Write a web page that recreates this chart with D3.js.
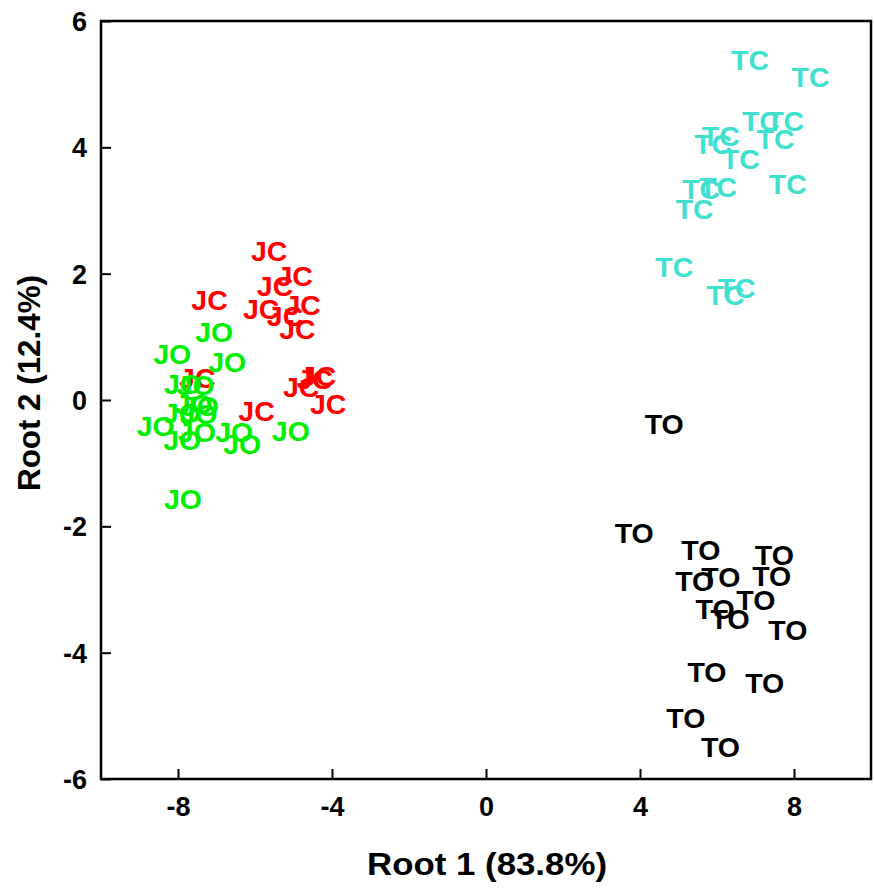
<!DOCTYPE html>
<html><head><meta charset="utf-8">
<script src="https://cdn.jsdelivr.net/npm/d3@7"></script>
<style>body{margin:0;background:#fff}svg{display:block}text{font-family:"Liberation Sans",Arial,sans-serif;font-weight:bold}</style>
</head><body>
<svg id="chart" width="874" height="895"></svg>
<script>
const xTicks = [-8, -4, 0, 4, 8];
const yTicks = [-6, -4, -2, 0, 2, 4, 6];
const groups = ["TC", "TO", "JC", "JO"];
const colors = ["#40e0d0", "#000000", "#ff0000", "#00ee00"];

const tcX = [6.86, 8.43, 7.14, 7.77, 7.52, 6.10, 5.90, 6.62, 7.84, 5.59, 6.03, 5.42, 4.89, 6.51, 6.22];
const tcY = [5.39, 5.11, 4.42, 4.42, 4.13, 4.18, 4.05, 3.81, 3.42, 3.34, 3.37, 3.02, 2.11, 1.77, 1.66];
const toX = [4.63, 3.85, 5.58, 7.49, 5.42, 6.10, 7.42, 7.01, 5.95, 6.34, 7.84, 5.74, 7.24, 5.19, 6.09];
const toY = [-0.38, -2.11, -2.37, -2.45, -2.86, -2.80, -2.78, -3.16, -3.31, -3.47, -3.64, -4.31, -4.48, -5.03, -5.50];
const jcX = [-5.63, -4.97, -5.48, -7.18, -4.76, -5.84, -5.22, -4.90, -7.50, -4.36, -4.45, -4.80, -4.10, -5.96];
const jcY = [2.36, 1.96, 1.81, 1.59, 1.51, 1.44, 1.33, 1.13, 0.35, 0.38, 0.34, 0.20, -0.07, -0.18];
const joX = [-7.06, -8.15, -6.72, -7.87, -7.54, -7.59, -7.43, -7.47, -8.58, -7.89, -7.51, -6.54, -6.33, -5.07, -7.87, -7.90];
const joY = [1.08, 0.73, 0.60, 0.26, 0.24, -0.06, -0.09, -0.22, -0.41, -0.63, -0.50, -0.51, -0.69, -0.49, -1.57, -0.20];

const seriesX = [tcX, toX, jcX, joX];
const seriesY = [tcY, toY, jcY, joY];

const svg = d3.select("#chart");
const L = 101, R = 871, T = 21, B = 779;
const x = d3.scaleLinear().domain([-10, 10]).range([L, R]);
const y = d3.scaleLinear().domain([-6, 6]).range([B, T]);

// points (labels)
groups.forEach((g, gi) => {
  const data = seriesX[gi].map((v, i) => ({x: v, y: seriesY[gi][i]}));
  svg.append("g").selectAll("text").data(data).join("text")
    .attr("x", d => x(d.x)).attr("y", d => y(d.y))
    .attr("text-anchor", "middle").attr("dominant-baseline", "central")
    .attr("font-size", 28.5).attr("fill", colors[gi]).text(g);
});

// axes (ticks inward)
const fmt = d => String(d);
const xAxis = d3.axisBottom(x).tickValues(xTicks).tickSize(-10).tickPadding(18).tickFormat(fmt);
const gx = svg.append("g").attr("transform", `translate(0,${B})`).call(xAxis);
const yAxis = d3.axisLeft(y).tickValues(yTicks).tickSize(-10).tickPadding(14).tickFormat(fmt);
const gy = svg.append("g").attr("transform", `translate(${L},0)`).call(yAxis);
[gx, gy].forEach(g => {
  g.select(".domain").remove();
  g.selectAll(".tick line").attr("stroke", "#000").attr("stroke-width", 2);
  g.selectAll(".tick text").attr("font-size", 27).attr("fill", "#000")
    .attr("font-family", '"Liberation Sans",Arial,sans-serif').attr("font-weight", "bold");
});
gy.selectAll(".tick text").attr("dy", "0.35em");

// frame
svg.append("rect").attr("x", L).attr("y", T).attr("width", R - L).attr("height", B - T)
  .attr("fill", "none").attr("stroke", "#000").attr("stroke-width", 2.5);

// titles
svg.append("text").attr("x", 487).attr("y", 875).attr("text-anchor", "middle")
  .attr("font-size", 31).attr("fill", "#000")
  .attr("textLength", 240).attr("lengthAdjust", "spacingAndGlyphs").text("Root 1 (83.8%)");
svg.append("text").attr("transform", "translate(40,383) rotate(-90)").attr("text-anchor", "middle")
  .attr("font-size", 31).attr("fill", "#000")
  .attr("textLength", 216).attr("lengthAdjust", "spacingAndGlyphs").text("Root 2 (12.4%)");
</script>
</body></html>
